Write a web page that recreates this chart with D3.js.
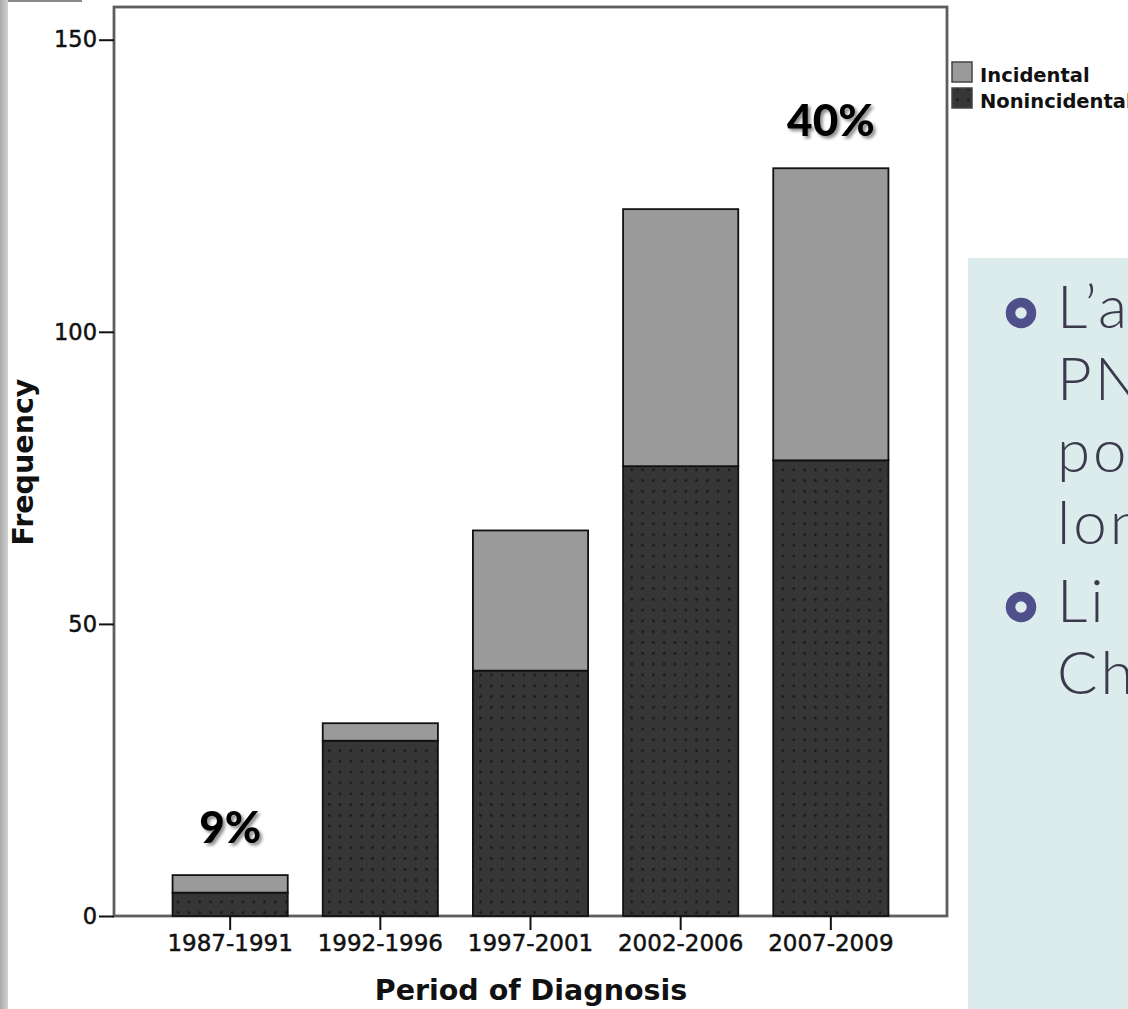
<!DOCTYPE html>
<html>
<head>
<meta charset="utf-8">
<script src="https://cdn.jsdelivr.net/npm/d3@7"></script>
<style>
  html, body { margin: 0; padding: 0; background: #fff; overflow: hidden; }
</style>
</head>
<body>
<div id="chart"></div>
<script>
// values
const periods = ["1987-1991", "1992-1996", "1997-2001", "2002-2006", "2007-2009"];
const nonincidental = [4, 30, 42, 77, 78];
const incidental = [3, 3, 24, 44, 50];
const yTicks = [0, 50, 100, 150];
const seriesNames = ["Incidental", "Nonincidental"];
const pctLabels = [["1987-1991", "9%"], ["2007-2009", "40%"]];
const slideLines = [["L\u2019a", "PN", "po", "lon"], ["Li", "Ch"]];

const W = 1128, H = 1009;
const frame = { left: 114, right: 947, top: 7, bottom: 916 };

const svg = d3.select("#chart").append("svg")
    .attr("width", W)
    .attr("height", H);

const defs = svg.append("defs");

// dotted fill used by the dark bars
const pat = defs.append("pattern")
    .attr("id", "dots")
    .attr("patternUnits", "userSpaceOnUse")
    .attr("width", 10.8)
    .attr("height", 10.8);
pat.append("rect").attr("width", 10.8).attr("height", 10.8).attr("fill", "#363636");
pat.append("circle").attr("cx", 5.4).attr("cy", 5.4).attr("r", 1.4).attr("fill", "#1a1a1a");

const grad = defs.append("linearGradient").attr("id", "strip");
grad.append("stop").attr("offset", "0%").attr("stop-color", "#a9a9a9");
grad.append("stop").attr("offset", "100%").attr("stop-color", "#d2d2d2");

const shadow = defs.append("filter").attr("id", "shadow")
    .attr("x", "-20%").attr("y", "-20%").attr("width", "150%").attr("height", "150%");
shadow.append("feDropShadow")
    .attr("dx", 2.5).attr("dy", 2.5).attr("stdDeviation", 1.6)
    .attr("flood-color", "#000").attr("flood-opacity", 0.45);

// slide background bits
svg.append("rect").attr("x", 0).attr("y", 0).attr("width", 8).attr("height", H).attr("fill", "url(#strip)");
svg.append("line").attr("x1", 8).attr("x2", 82).attr("y1", 1).attr("y2", 1)
    .attr("stroke", "#8a8a8a").attr("stroke-width", 2);

svg.append("rect")
    .attr("x", 968).attr("y", 258)
    .attr("width", W - 968).attr("height", H - 258)
    .attr("fill", "#dcebeb");

// scales
const x = d3.scaleBand()
    .domain(periods)
    .range([frame.left, frame.right])
    .paddingInner(0.233)
    .paddingOuter(0.39);

const y = d3.scaleLinear()
    .domain([0, 155.6])
    .range([frame.bottom, frame.top]);

// stacked data
const rows = periods.map((p, i) => ({ period: p, Nonincidental: nonincidental[i], Incidental: incidental[i] }));
const stacked = d3.stack().keys(["Nonincidental", "Incidental"])(rows);
const fills = { Nonincidental: "url(#dots)", Incidental: "#9a9a9a" };

// frame
svg.append("rect")
    .attr("x", frame.left).attr("y", frame.top)
    .attr("width", frame.right - frame.left)
    .attr("height", frame.bottom - frame.top)
    .attr("fill", "#fff")
    .attr("stroke", "#5e5e5e")
    .attr("stroke-width", 2.8);

stacked.forEach(layer => {
    svg.append("g").selectAll("rect")
        .data(layer)
        .join("rect")
        .attr("x", d => x(d.data.period))
        .attr("width", x.bandwidth())
        .attr("y", d => y(d[1]))
        .attr("height", d => y(d[0]) - y(d[1]))
        .attr("fill", fills[layer.key])
        .attr("stroke", "#111")
        .attr("stroke-width", 1.8);
});

// axes
const yAxis = svg.append("g")
    .attr("transform", `translate(${frame.left},0)`)
    .call(d3.axisLeft(y).tickValues(yTicks).tickSize(15).tickPadding(2));
const xAxis = svg.append("g")
    .attr("transform", `translate(0,${frame.bottom})`)
    .call(d3.axisBottom(x).tickSize(14).tickPadding(5));

[yAxis, xAxis].forEach(g => {
    g.select(".domain").remove();
    g.selectAll(".tick line").attr("stroke", "#111").attr("stroke-width", 2);
    g.selectAll(".tick text")
        .attr("fill", "#111")
        .attr("stroke", "#111")
        .attr("stroke-width", 0.5)
        .attr("font-family", "DejaVu Sans")
        .attr("font-size", 22.5);
});
xAxis.selectAll(".tick text").attr("font-size", 23);

// axis titles
svg.append("text")
    .attr("x", 531).attr("y", 1000)
    .attr("text-anchor", "middle")
    .attr("font-family", "DejaVu Sans")
    .attr("font-weight", "bold")
    .attr("font-size", 28.5)
    .attr("fill", "#111")
    .text("Period of Diagnosis");

svg.append("text")
    .attr("transform", "translate(33,462) rotate(-90)")
    .attr("text-anchor", "middle")
    .attr("font-family", "DejaVu Sans")
    .attr("font-weight", "bold")
    .attr("font-size", 28.5)
    .attr("fill", "#111")
    .text("Frequency");

// legend
const legend = svg.append("g").attr("transform", "translate(952,62)");
seriesNames.forEach((name, i) => {
    legend.append("rect")
        .attr("x", 0).attr("y", i * 26)
        .attr("width", 20).attr("height", 20)
        .attr("fill", name === "Incidental" ? "#9a9a9a" : "url(#dots)")
        .attr("stroke", "#444").attr("stroke-width", 1.5);
    legend.append("text")
        .attr("x", 28).attr("y", i * 26 + 20)
        .attr("font-family", "DejaVu Sans")
        .attr("font-weight", "bold")
        .attr("font-size", 19.5)
        .attr("fill", "#111")
        .text(name);
});

// percent annotations above the first and last bars
pctLabels.forEach(([p, label]) => {
    const i = periods.indexOf(p);
    svg.append("text")
        .attr("x", x(p) + x.bandwidth() / 2)
        .attr("y", y(nonincidental[i] + incidental[i]) - 32)
        .attr("text-anchor", "middle")
        .attr("font-family", "Lato")
        .attr("font-weight", "900")
        .attr("font-size", 44)
        .attr("fill", "#000")
        .attr("filter", "url(#shadow)")
        .text(label);
});

// slide text on the right, cut by the page edge
const blockTops = [328, 622];
slideLines.forEach((lines, b) => {
    svg.append("circle")
        .attr("cx", 1021).attr("cy", blockTops[b] - 15)
        .attr("r", 10.5)
        .attr("fill", "none")
        .attr("stroke", "#4f4f8c")
        .attr("stroke-width", 9.5);
    lines.forEach((t, j) => {
        svg.append("text")
            .attr("x", 1057)
            .attr("y", blockTops[b] + j * 72)
            .attr("font-family", "Lato")
            .attr("font-weight", "300")
            .attr("font-size", 60)
            .attr("letter-spacing", 3)
            .attr("fill", "#3a3a4c")
            .text(t);
    });
});
</script>
</body>
</html>
